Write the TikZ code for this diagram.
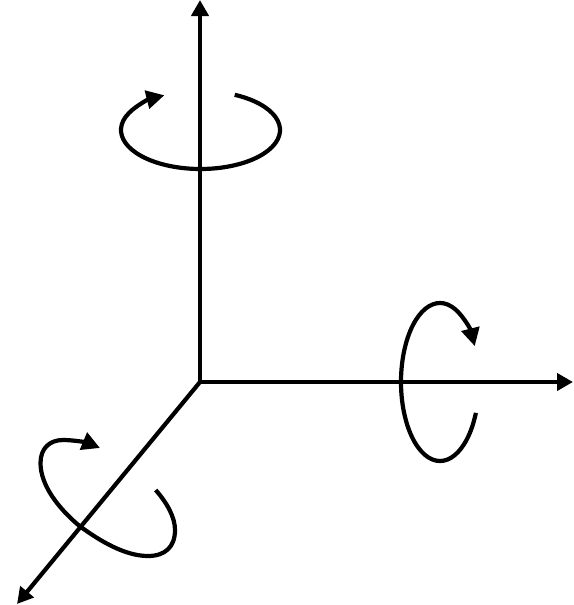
\documentclass[tikz,border=0pt]{standalone}
\usetikzlibrary{arrows.meta}
\begin{document}
\begin{tikzpicture}[
  x=1pt, y=1pt,
  axisline/.style={line width=4.2pt, -{Triangle[length=16pt, width=17pt]}},
  spinline/.style={line width=4.2pt, line cap=butt, -{Triangle[length=18pt, width=18pt]}}
]
  \useasboundingbox (0,0) rectangle (573,-605);

  % Axis ends
  \coordinate (origin) at (200,-382);
  \coordinate (up) at (200,0);
  \coordinate (right) at (573,-382);
  \coordinate (front) at (17,-604);

  % Axes
  \draw[axisline] (origin) -- (up);
  \draw[axisline] (origin) -- (right);
  \draw[axisline] (origin) -- (front);

  % Rotation around the vertical axis
  \draw[spinline] (200.5,-130) ++(64.5:79.5 and 39) arc[start angle=64.5, end angle=-243, x radius=79.5, y radius=39];

  % Rotation around the horizontal axis
  \draw[spinline] (440,-382) ++(-23:39 and 79) arc[start angle=-23, end angle=-333, x radius=39, y radius=79];

  % Rotation around the front axis
  \draw[spinline] (155.7,-490) .. controls (167,-503) and (175,-517) .. (175,-530)
    .. controls (175,-547) and (165,-556) .. (148,-556)
    .. controls (125,-556) and (100,-541) .. (79.5,-526)
    .. controls (58,-508) and (40.5,-485) .. (40.5,-463)
    .. controls (40.5,-448) and (50,-440) .. (63,-440)
    .. controls (75,-440) and (88,-443) .. (100,-448);
\end{tikzpicture}
\end{document}
